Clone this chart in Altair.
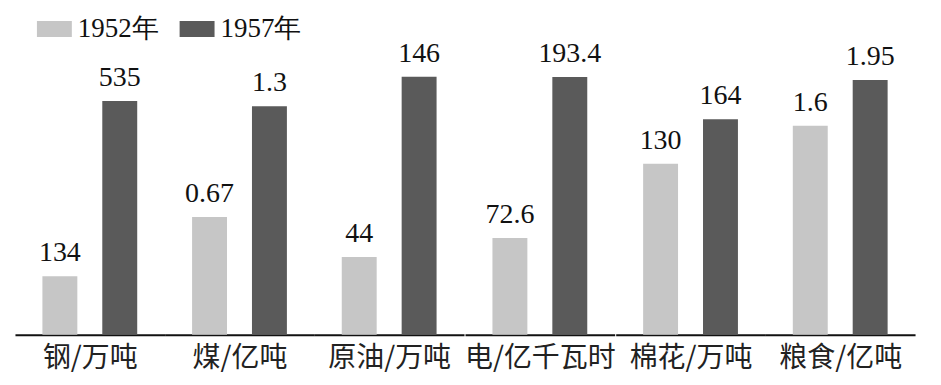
import altair as alt
import pandas as pd

categories = ["钢/万吨", "煤/亿吨", "原油/万吨", "电/亿千瓦时", "棉花/万吨", "粮食/亿吨"]
years = ["1952年", "1957年"]
values_1952 = [134, 0.67, 44, 72.6, 130, 1.6]
values_1957 = [535, 1.3, 146, 193.4, 164, 1.95]

# every category has its own unit, so every panel gets its own y range
y_tops = [740, 1.84, 183, 242.7, 246, 2.475]

SERIF = "Liberation Serif"
CJK = "Noto Sans CJK SC"

color = alt.Color(
    "year:N",
    sort=years,
    scale=alt.Scale(domain=years, range=["#c6c6c6", "#5a5a5a"]),
    legend=alt.Legend(
        title=None,
        orient="none",
        legendX=22,
        legendY=0,
        direction="horizontal",
        symbolType="M-1,-0.46H1V0.46H-1Z",
        symbolSize=1225,
        symbolStrokeWidth=0,
        symbolOpacity=1,
        labelFont=SERIF,
        labelFontSize=27,
        labelColor="#111",
        labelOffset=6,
        columnPadding=21,
    ),
)


def panel(i):
    df = pd.DataFrame(
        {
            "year": years,
            "value": [values_1952[i], values_1957[i]],
            "label": [str(values_1952[i]), str(values_1957[i])],
        }
    )
    base = alt.Chart(df).encode(
        x=alt.X(
            "year:N",
            sort=years,
            scale=alt.Scale(paddingInner=0.4167, paddingOuter=0.458),
            axis=alt.Axis(
                title=categories[i],
                labels=False,
                ticks=False,
                grid=False,
                domainColor="#111",
                domainWidth=2,
                titleFont=CJK,
                titleFontSize=28,
                titleFontWeight="normal",
                titleColor="#222",
                titlePadding=10,
            ),
        ),
        y=alt.Y(
            "value:Q",
            scale=alt.Scale(domain=[0, y_tops[i]], nice=False, zero=True),
            axis=None,
        ),
    )
    bars = base.mark_bar(size=35).encode(color=color)
    text = base.mark_text(
        dy=-9,
        baseline="bottom",
        align="center",
        font=SERIF,
        fontSize=28,
        fontWeight="normal",
        color="#111",
    ).encode(text="label:N")
    return (bars + text).properties(width=150, height=324)


chart = (
    alt.hconcat(*[panel(i) for i in range(len(categories))], spacing=0)
    .properties(
        padding={"left": 15, "top": 11, "right": 26, "bottom": 2},
        background="white",
    )
    .configure_view(strokeWidth=0, stroke=None)
)

chart.save("out.html", embed_options={"renderer": "svg", "actions": False})
